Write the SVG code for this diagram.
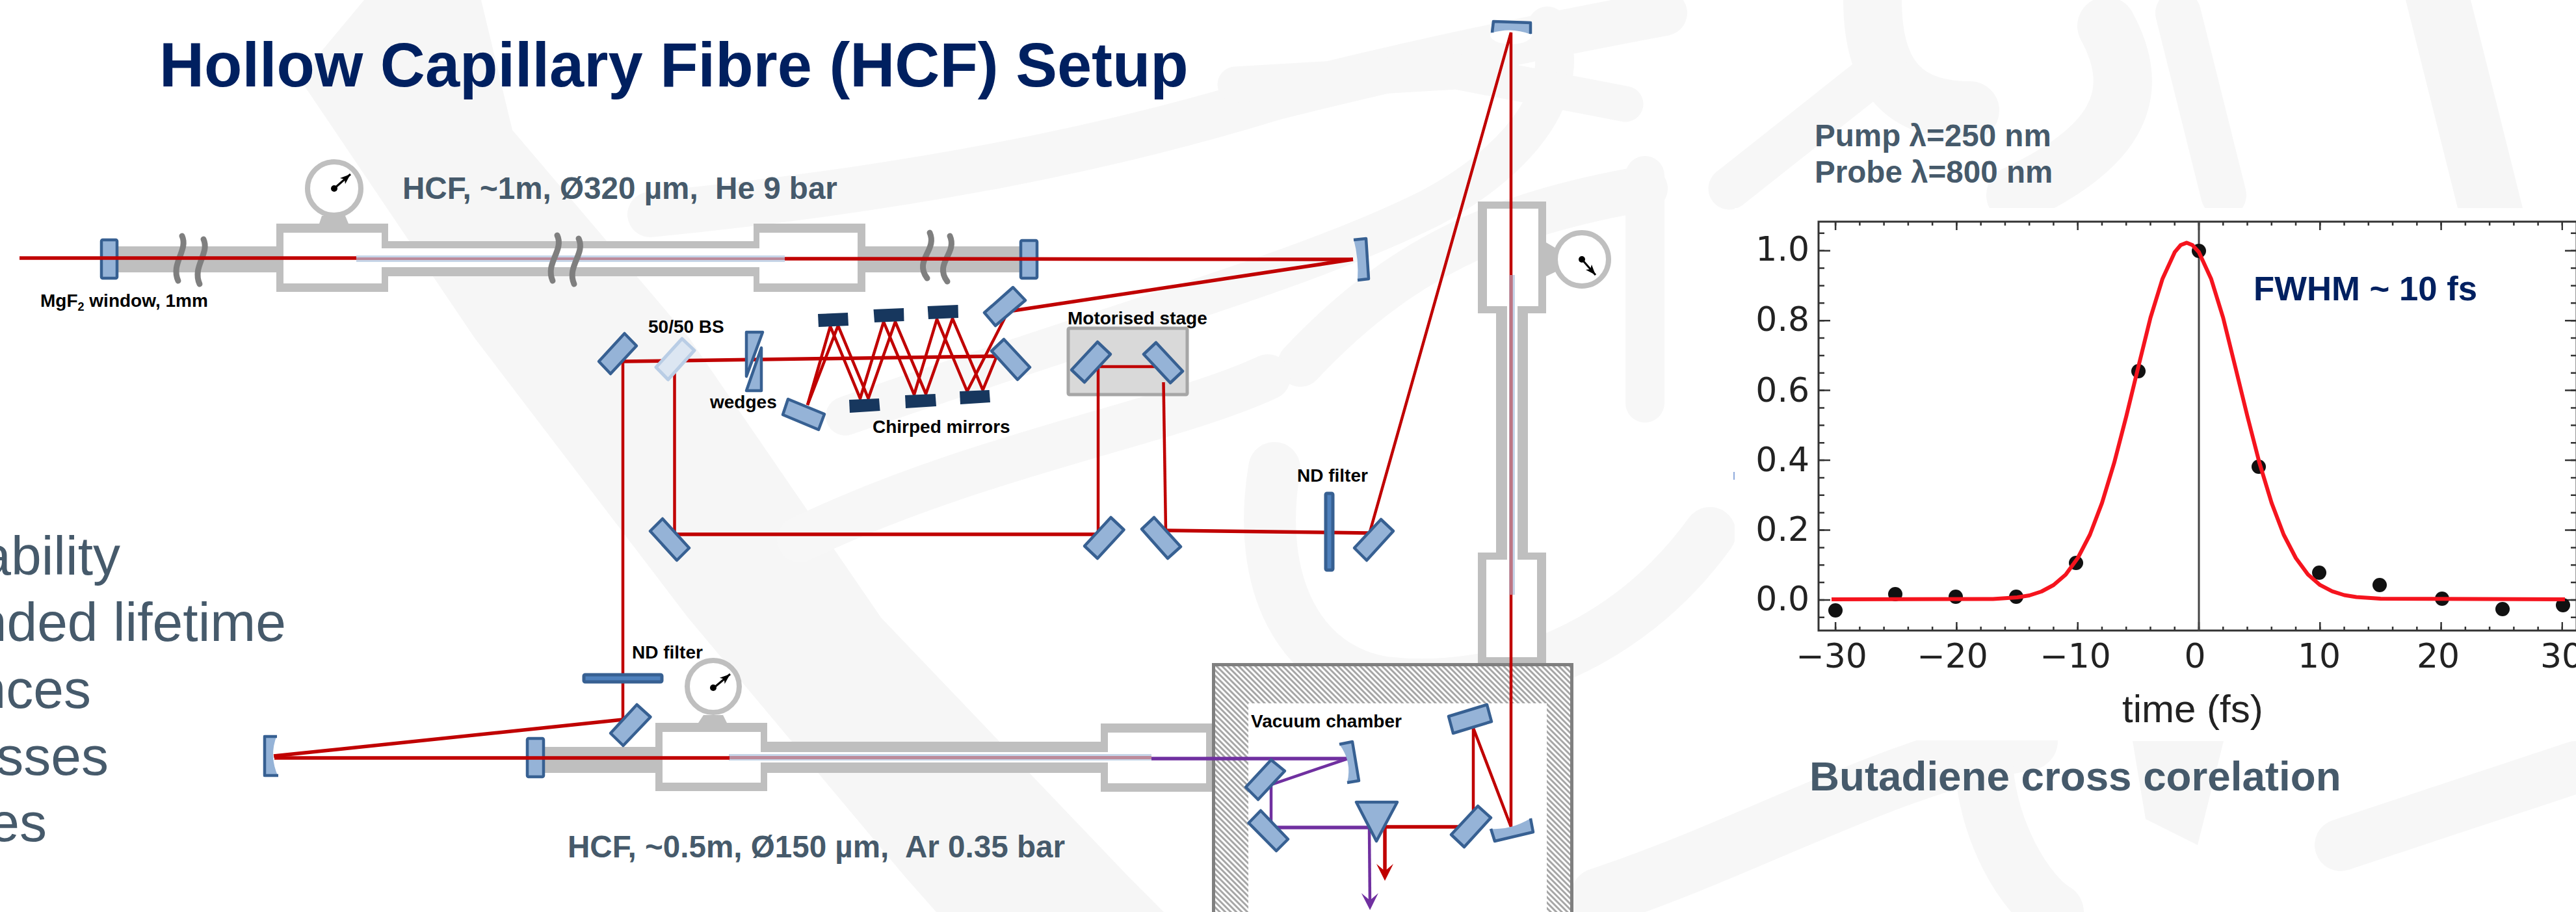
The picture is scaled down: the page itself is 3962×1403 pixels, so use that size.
<svg xmlns="http://www.w3.org/2000/svg" width="3962" height="1403" viewBox="0 0 3962 1403">
<style>
text{font-family:"Liberation Sans",Arial,sans-serif;white-space:pre}
.lbl{font-size:28px;font-weight:700;fill:#000}
.hcf{font-size:47.6px;font-weight:700;fill:#465a6b}
.bul{font-size:84px;fill:#465a6b;text-anchor:end}
.tick{font-family:"DejaVu Sans",sans-serif;font-size:52px;fill:#222}
.bg{fill:none;stroke:#f7f7f7;stroke-linecap:round;stroke-linejoin:round}
.bf{fill:#f6f6f6}
.wall{fill:#bfbfbf}
.in{fill:#fff}
.m{fill:#95b3d7;stroke:#376092;stroke-width:4.5;stroke-linejoin:round}
.mf{fill:#95b3d7}
.ms{fill:none;stroke:#376092;stroke-width:4.5;stroke-linejoin:round}
.cm{fill:#17375e}
.nd{fill:#4f81bd;stroke:#376092;stroke-width:5;stroke-linejoin:round}
.gauge{fill:#fff;stroke:#bfbfbf;stroke-width:8}
.sq{fill:none;stroke:#7f7f7f;stroke-width:9;stroke-linecap:round}
.fib{fill:#c6d5e8}
.fibc{fill:#bc8b9b}
.r5{fill:none;stroke:#c00000;stroke-width:5.5}
.r4{fill:none;stroke:#c00000;stroke-width:4.5}
.p5{fill:none;stroke:#7030a0;stroke-width:5.5}
.p4{fill:none;stroke:#7030a0;stroke-width:4.5}
.ndl{stroke:#000;stroke-width:3}
.tk{fill:none;stroke:#333}
</style>
<defs>
<pattern id="hatch" width="6" height="6" patternUnits="userSpaceOnUse" patternTransform="rotate(45)"><rect width="6" height="6" fill="#fff"/><rect width="6" height="3" fill="#a6a6a6"/></pattern>
<marker id="needle" markerUnits="userSpaceOnUse" viewBox="0 -8 18 16" refX="16" refY="0" markerWidth="18" markerHeight="16" orient="auto"><path d="M0,-6 L16,0 L0,6 L4,0 Z" fill="#000"/></marker>
<marker id="ar" markerUnits="userSpaceOnUse" viewBox="-2 -15 30 30" refX="16" refY="0" markerWidth="30" markerHeight="30" orient="auto"><path d="M0,-13 L26,0 L0,13 L11,0 Z" fill="#c00000"/></marker>
<marker id="ap" markerUnits="userSpaceOnUse" viewBox="-2 -15 30 30" refX="16" refY="0" markerWidth="30" markerHeight="30" orient="auto"><path d="M0,-13 L26,0 L0,13 L11,0 Z" fill="#7030a0"/></marker>
</defs>
<rect width="3962" height="1403" fill="#fff"/>
<g id="watermark">
<path class="bf" d="M460,120 L730,520 L1058,950 L1393,1350 L1440,1403 L1790,1403 L1737,1350 L1355,950 L1060,520 L788,200 L740,0 L560,0 Z"/>
<path class="bg" stroke-width="70" d="M1000,330 C1400,290 1700,230 1960,150 C2200,90 2350,60 2560,20"/>
<path class="bg" stroke-width="60" d="M1300,640 C1700,500 2000,420 2200,320 C2350,240 2420,130 2380,40"/>
<path class="bg" stroke-width="55" d="M1900,130 L2240,110 L2500,160"/>
<path class="bg" stroke-width="70" d="M2000,560 C2150,400 2300,330 2530,290"/>
<path class="bg" stroke-width="80" d="M1960,720 C1930,900 2000,1030 2130,1050 C2300,1070 2500,1000 2630,820"/>
<path class="bg" stroke-width="60" d="M2530,270 L2530,620"/>
<path class="bg" stroke-width="70" d="M1230,830 C1500,700 1800,650 1950,580"/>
<path class="bg" stroke-width="90" d="M2880,0 C2880,120 2930,170 3030,170"/>
<path class="bg" stroke-width="70" d="M3350,20 L3420,300"/>
<path class="bg" stroke-width="65" d="M2660,290 L2900,100"/>
<path class="bg" stroke-width="90" d="M3240,40 C3300,150 3250,230 3100,300"/>
<path class="bg" stroke-width="90" d="M2460,1380 C2700,1300 2900,1180 3120,1140"/>
<path class="bg" stroke-width="90" d="M3050,1150 C3050,1280 3120,1380 3160,1403"/>
<path class="bg" stroke-width="80" d="M3600,1300 L3962,1180"/>
<path class="bf" d="M3700,0 L3800,0 L3880,320 L3780,320 Z"/>
<path class="bf" d="M3280,1140 L3420,1140 L3380,1300 L3300,1260 Z"/>
</g>
<g id="fibre-1">
<rect class="wall" x="182" y="379" width="243" height="40"/>
<rect class="wall" x="1331" y="379" width="237" height="40"/>
<rect class="wall" x="587" y="371" width="581" height="54"/>
<rect class="wall" x="425" y="344" width="172" height="105"/>
<rect class="in" x="436" y="358" width="151" height="78"/>
<rect class="wall" x="1159" y="344" width="172" height="105"/>
<rect class="in" x="1168" y="358" width="151" height="78"/>
<rect class="in" x="580" y="382" width="595" height="29"/>
<rect class="wall" x="425" y="379" width="11" height="40"/>
<rect class="wall" x="1319" y="379" width="12" height="40"/>
<rect class="fib" x="548" y="393" width="659" height="10"/>
<rect class="fibc" x="548" y="396" width="659" height="4"/>
<path class="wall" d="M491,344 L536,344 L531,332 L495,332 Z"/>
<circle class="gauge" cx="514" cy="290" r="41"/>
<circle cx="514" cy="290" r="5"/>
<line class="ndl" x1="514" y1="290" x2="539" y2="268" marker-end="url(#needle)"/>
<rect class="m" x="156" y="369" width="24" height="59" rx="2"/>
<rect class="m" x="1570" y="370" width="25" height="58" rx="2"/>
<path class="sq" d="M280,363 C290,385 262,405 274,432"/>
<path class="sq" d="M313,368 C323,390 295,410 307,437"/>
<path class="sq" d="M857,362 C868,385 838,405 850,432"/>
<path class="sq" d="M890,367 C901,390 871,410 883,437"/>
<path class="sq" d="M1430,358 C1442,385 1405,400 1426,428"/>
<path class="sq" d="M1461,363 C1473,390 1436,405 1457,433"/>
</g>
<g id="fibre-2">
<rect class="wall" x="2301" y="482" width="49" height="368"/>
<rect class="wall" x="2273" y="310" width="105" height="172"/>
<rect class="in" x="2287" y="321" width="79" height="150"/>
<rect class="wall" x="2273" y="850" width="105" height="172"/>
<rect class="in" x="2286" y="861" width="78" height="150"/>
<rect class="in" x="2318" y="465" width="16" height="405"/>
<rect class="fib" x="2321" y="423" width="9" height="492"/>
<path class="wall" d="M2378,373 L2395,383 L2395,417 L2378,425 Z"/>
<circle class="gauge" cx="2433" cy="399" r="41"/>
<circle cx="2433" cy="399" r="5"/>
<line class="ndl" x1="2433" y1="399" x2="2454" y2="423" marker-end="url(#needle)"/>
</g>
<g id="fibre-3">
<rect class="wall" x="838" y="1149" width="170" height="40"/>
<rect class="wall" x="1170" y="1141" width="534" height="48"/>
<rect class="wall" x="1008" y="1112" width="172" height="105"/>
<rect class="in" x="1019" y="1126" width="151" height="78"/>
<rect class="wall" x="1693" y="1113" width="171" height="105"/>
<rect class="in" x="1704" y="1127" width="151" height="78"/>
<rect class="in" x="1165" y="1157" width="545" height="16"/>
<rect class="wall" x="1008" y="1149" width="11" height="40"/>
<rect class="fib" x="1121" y="1160" width="650" height="10"/>
<rect class="fibc" x="1121" y="1163" width="650" height="5"/>
<path class="wall" d="M1074,1112 L1118,1112 L1112,1100 L1082,1100 Z"/>
<circle class="gauge" cx="1097" cy="1056" r="40"/>
<circle cx="1097" cy="1058" r="5"/>
<line class="ndl" x1="1098" y1="1058" x2="1123" y2="1037" marker-end="url(#needle)"/>
<rect class="m" x="811" y="1136" width="25" height="59" rx="2"/>
</g>
<g id="vacuum-chamber">
<path d="M1864,1403 L1864,1020 L2420,1020 L2420,1403 L2379,1403 L2379,1082 L1920,1082 L1920,1403 Z" fill="url(#hatch)"/>
<path d="M1866.500,1403 L1866.500,1022.500 L2417.500,1022.500 L2417.500,1403" fill="none" stroke="#7f7f7f" stroke-width="5"/>
<rect class="in" x="1920" y="1082" width="459" height="321"/>
</g>
<g id="stage"><rect x="1643" y="505" width="183" height="102" rx="2" fill="#d9d9d9" stroke="#a6a6a6" stroke-width="5"/></g>
<ellipse cx="2324" cy="54" rx="32" ry="14" fill="#fff"/>
<g id="connectors">
<path class="r5" d="M30,397 L548,397 M1207,398 L2081,399"/>
<path class="r5" d="M2081,399 L1558,478"/>
<path class="r5" d="M957,556 L1530,548"/>
<path class="r4" d="M958,555 L958,1107"/>
<path class="r5" d="M958,1107 L421,1163"/>
<path class="r5" d="M422,1166 L1122,1166"/>
<path class="r4" d="M1037.500,573 L1037.500,822"/>
<path class="r5" d="M1037,822 L1687,822"/>
<path class="r4" d="M1689,822 L1689,564 L1777,564"/>
<path class="r4" d="M1789.500,588 L1793,816"/>
<path class="r5" d="M1793,816 L2105,820"/>
<path class="r4" d="M2107,818 L2324,50 L2324,1272 L2266,1120 L2266,1247"/>
<path class="r4" d="M1242,623 L1277,502 L1323,613 L1359,495 L1406,607 L1441,491 L1487.500,602 L1546,488"/>
<path class="r4" d="M1242,623 L1289,501 L1335.500,613 L1377,495 L1424,606 L1465,490 L1511.600,600 L1533,548"/>
<path class="r5" d="M2244,1272 L2129,1272"/>
<line class="r5" x1="2130" y1="1272" x2="2130" y2="1345" marker-end="url(#ar)"/>
<path class="p5" d="M1771,1167 L2073,1167"/>
<path class="p4" d="M2073,1167 L1955,1207 L1955,1270"/>
<path class="p5" d="M1954,1273 L2106,1273"/>
<line class="p4" x1="2106" y1="1273" x2="2107" y2="1390" marker-end="url(#ap)"/>
</g>
<g id="fibre-2-core"><rect class="fibc" x="2322" y="423" width="5" height="492" opacity=".85"/></g>
<g id="m-top"><path class="mf" d="M2295,31 L2356,33 L2355,53 Q2324,41 2293,51 Z"/><path class="ms" d="M2295,50 L2297,33 L2354,35 L2354,52"/></g>
<g id="m-right"><path class="mf" d="M2082,368 L2100,366 L2107,428 L2088,431 Q2090,398 2082,368 Z"/><path class="ms" d="M2082,369 L2101,367 L2105,429 L2088,431"/></g>
<g id="m-fold1"><polygon class="m" points="1558,442 1577,462 1531,501 1514,481"/></g>
<g id="m-a"><polygon class="m" points="960.500,513 979,532 939,575 921,556"/></g>
<g id="bs"><polygon points="1049,521 1068,539 1027.500,584 1009,565" fill="#dce6f2" stroke="#b9cde5" stroke-width="5" stroke-linejoin="round"/></g>
<g id="wedges"><polygon class="m" points="1148,511 1173,511 1148,579"/><polygon class="m" points="1171,535 1171,601 1148,601"/></g>
<g id="chirped">
<polygon class="cm" points="1258,483 1304,481 1305,501 1259,503"/>
<polygon class="cm" points="1343.500,476 1390,474 1390.500,494 1345,496"/>
<polygon class="cm" points="1426.600,471 1473.500,469 1474,489 1428,491"/>
<polygon class="cm" points="1306,615 1352,613 1353.600,632 1307,635"/>
<polygon class="cm" points="1392,608 1438.600,606 1440,625 1393,628"/>
<polygon class="cm" points="1476,602 1521.600,600 1523,619 1477,622"/>
</g>
<g id="m-c"><polygon class="m" points="1212,614 1268,637 1259,661 1204,638"/></g>
<g id="m-d"><polygon class="m" points="1544,522 1584,565 1565,584 1525,540"/></g>
<g id="m-s1"><polygon class="m" points="1688,526 1708,545 1668,588 1648,569"/></g>
<g id="m-s2"><polygon class="m" points="1778,527 1819,571 1800,589 1759,545"/></g>
<g id="m-b1"><polygon class="m" points="1019,798 1060,843 1041,862 1000,817"/></g>
<g id="m-b2"><polygon class="m" points="1708.500,796 1728.600,815 1688,859 1668,840"/></g>
<g id="m-b3"><polygon class="m" points="1775,796 1816,841 1796,859 1756,814"/></g>
<g id="nd-1"><rect class="nd" x="2039" y="759" width="11" height="118" rx="2"/></g>
<g id="m-e"><polygon class="m" points="2124,799 2143,817 2102,862 2083,843"/></g>
<g id="nd-2"><rect class="nd" x="898" y="1038" width="120" height="11" rx="2"/></g>
<g id="m-f"><polygon class="m" points="979.500,1084 1000.500,1103 958.500,1147 939,1128"/></g>
<g id="m-left"><path class="mf" d="M405,1131 L426,1131 Q413,1163 428,1195 L405,1195 Z"/><path class="ms" d="M426,1133 L407,1133 L407,1193 L428,1193"/></g>
<g id="m-v1"><polygon class="m" points="2228,1102 2287,1084 2294,1110 2235,1128"/></g>
<g id="m-v2"><path class="mf" d="M2060,1145 L2081,1141 L2091,1201 L2072,1204 Q2080,1172 2060,1145 Z"/><path class="ms" d="M2060,1145 L2080,1141 L2090,1201 L2072,1204"/></g>
<g id="m-v3"><polygon class="m" points="1955,1169 1976,1186 1935,1230 1916,1211"/></g>
<g id="m-v4"><polygon class="m" points="1939,1247 1981,1291 1963,1309 1920.500,1266"/></g>
<g id="prism"><polygon class="m" points="2086,1234 2149,1234 2117,1294"/></g>
<g id="m-v5"><polygon class="m" points="2273,1240 2293,1258 2252,1303 2232,1284"/></g>
<g id="m-v6"><path class="mf" d="M2293,1275 Q2324,1277 2354,1259 L2358,1280 L2299,1294 Z"/><path class="ms" d="M2293,1275 L2299,1294 L2358,1280 L2354,1259"/></g>
<g id="labels">
<text x="245" y="133" font-size="95.6" font-weight="700" fill="#002060">Hollow Capillary Fibre (HCF) Setup</text>
<text class="hcf" x="619" y="306">HCF, ~1m, Ø320 µm,  He 9 bar</text>
<text class="hcf" x="873" y="1319">HCF, ~0.5m, Ø150 µm,  Ar 0.35 bar</text>
<text class="lbl" x="62" y="472">MgF<tspan font-size="18" dy="6">2</tspan><tspan dy="-6"> window, 1mm</tspan></text>
<text class="lbl" x="997" y="512">50/50 BS</text>
<text class="lbl" x="1092" y="628">wedges</text>
<text class="lbl" x="1342" y="666">Chirped mirrors</text>
<text class="lbl" x="1642" y="499">Motorised stage</text>
<text class="lbl" x="1995" y="741">ND filter</text>
<text class="lbl" x="972" y="1013">ND filter</text>
<text class="lbl" x="1924" y="1119">Vacuum chamber</text>
<text class="bul" x="185" y="884">ability</text>
<text class="bul" x="440" y="986">nded lifetime</text>
<text class="bul" x="140" y="1089">nces</text>
<text class="bul" x="167" y="1192">sses</text>
<text class="bul" x="72" y="1294">es</text>
</g>
<g id="chart">
<rect x="2668" y="320" width="1294" height="819" fill="#fff"/>
<rect x="2666" y="726" width="2" height="12" fill="#4472c4" opacity=".6"/>
<rect x="2797" y="341" width="1166" height="629" fill="none" stroke="#333" stroke-width="3"/>
<g class="tk" stroke-width="2.500">
<line x1="2821.850" y1="963.500" x2="3942" y2="963.500" stroke-width="13" stroke-dasharray="2.500 183.800"/>
<line x1="2821.850" y1="967" x2="3942" y2="967" stroke-width="6" stroke-dasharray="2.500 34.760"/>
<line x1="2821.850" y1="347.500" x2="3942" y2="347.500" stroke-width="13" stroke-dasharray="2.500 183.800"/>
<line x1="2821.850" y1="344" x2="3942" y2="344" stroke-width="6" stroke-dasharray="2.500 34.760"/>
<line x1="2806" y1="924.250" x2="2806" y2="384" stroke-width="18" stroke-dasharray="2.500 104.960"/>
<line x1="2801.500" y1="951.100" x2="2801.500" y2="357" stroke-width="9" stroke-dasharray="2.500 24.365"/>
<line x1="3954" y1="924.250" x2="3954" y2="384" stroke-width="18" stroke-dasharray="2.500 104.960"/>
<line x1="3958.500" y1="951.100" x2="3958.500" y2="357" stroke-width="9" stroke-dasharray="2.500 24.365"/>
</g>
<line x1="3382" y1="341" x2="3382" y2="970" stroke="#444" stroke-width="3"/>
<g fill="#111">
<circle cx="2823" cy="939" r="11"/><circle cx="2915" cy="914" r="11"/><circle cx="3008" cy="918" r="11"/><circle cx="3101" cy="918" r="11"/><circle cx="3193" cy="866" r="11"/><circle cx="3289" cy="571" r="11"/><circle cx="3382" cy="386" r="11"/><circle cx="3474" cy="718" r="11"/><circle cx="3567" cy="881" r="11"/><circle cx="3660" cy="900" r="11"/><circle cx="3756" cy="921" r="11"/><circle cx="3849" cy="937" r="11"/><circle cx="3942" cy="931" r="11"/>
</g>
<polyline fill="none" stroke="#f5141e" stroke-width="6" stroke-linejoin="round" points="2817,922 3065.300,921.500 3102.600,919 3121.200,916 3139.800,910 3158.500,900 3177.100,884 3195.700,858.500 3214.400,822.500 3233,773.600 3251.600,712.400 3270.300,640.400 3288.900,564.100 3307.500,488.900 3326.100,428.700 3344.800,387.900 3354,377 3363.400,373.400 3372,377 3382,387.900 3400.700,428.700 3419.300,488.900 3437.900,564.100 3456.600,640.400 3475.200,712.400 3493.800,773.600 3512.400,822.500 3531.100,858.500 3549.700,883.800 3568.300,899.900 3587,909.700 3605.600,915.500 3624.200,918.500 3661.500,921 3945,922"/>
<g text-anchor="end">
<text class="tick" x="2783" y="401" text-anchor="end">1.0</text>
<text class="tick" x="2783" y="509" text-anchor="end">0.8</text>
<text class="tick" x="2783" y="618" text-anchor="end">0.6</text>
<text class="tick" x="2783" y="725" text-anchor="end">0.4</text>
<text class="tick" x="2783" y="832" text-anchor="end">0.2</text>
<text class="tick" x="2783" y="939" text-anchor="end">0.0</text>
</g>
<text class="tick" x="2817" y="1027" text-anchor="middle">−30</text>
<text class="tick" x="3003" y="1027" text-anchor="middle">−20</text>
<text class="tick" x="3192" y="1027" text-anchor="middle">−10</text>
<text class="tick" x="3376" y="1027" text-anchor="middle">0</text>
<text class="tick" x="3567" y="1027" text-anchor="middle">10</text>
<text class="tick" x="3750" y="1027" text-anchor="middle">20</text>
<text class="tick" x="3940" y="1027" text-anchor="middle">30</text>
<text x="3264" y="1111" font-size="60" fill="#222">time (fs)</text>
<text x="3466" y="462" font-size="52.700" font-weight="700" fill="#002060">FWHM ~ 10 fs</text>
</g>
<g id="chart-labels">
<text class="hcf" x="2791" y="225">Pump λ=250 nm</text>
<text class="hcf" x="2791" y="281">Probe λ=800 nm</text>
<text x="2783" y="1216" font-size="63.700" font-weight="700" fill="#465a6b">Butadiene cross corelation</text>
</g>
</svg>
